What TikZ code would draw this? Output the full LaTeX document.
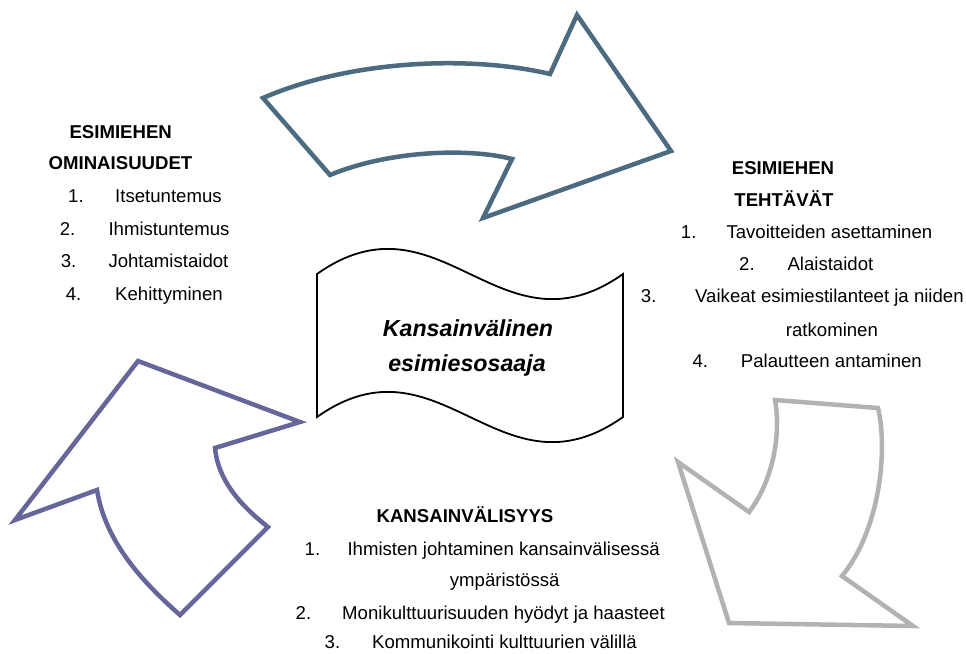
\documentclass[tikz,border=0pt]{standalone}
\usepackage{fontspec}
\setmainfont{Liberation Sans}
\definecolor{topblue}{RGB}{76,107,128}
\definecolor{leftpurple}{RGB}{102,102,154}
\definecolor{rightgray}{RGB}{178,178,178}
\begin{document}
\begin{tikzpicture}[x=1pt,y=-1pt,
  txt/.style={inner sep=0pt, anchor=base west, font=\fontsize{18.6}{22}\selectfont},
  hd/.style={inner sep=0pt, anchor=base, font=\fontsize{18.6}{22}\selectfont\bfseries},
  ctr/.style={inner sep=0pt, anchor=base, font=\fontsize{23.2}{28}\selectfont\bfseries\itshape},
  bigarrow/.style={line width=4.5pt, line join=miter, fill=white},
  wave/.style={line width=1.8pt, draw=black, fill=white}]
\useasboundingbox (0,0) rectangle (966,653);

% arrows
\draw[bigarrow, draw=topblue] (263,98) .. controls (350,60) and (470,55) .. (550,74)
  -- (577,15) -- (671,151) -- (483,218) -- (512,159)
  .. controls (470,148) and (390,150) .. (330,175) -- cycle;
\draw[bigarrow, draw=leftpurple] (138,361) -- (300,422) -- (215,448)
  .. controls (218,480) and (240,505) .. (268,527) -- (180,615)
  .. controls (140,580) and (105,540) .. (97,490) -- (15,520) -- cycle;
\draw[bigarrow, draw=rightgray] (775,400) -- (878,408)
  .. controls (888,450) and (880,530) .. (842,576) -- (913,626) -- (729,623)
  -- (678,462) -- (749,512) .. controls (770,485) and (782,440) .. cycle;

% central wave
\draw[wave] (317,274) .. controls (440,187) and (500,361) .. (623,274) -- (623,417)
  .. controls (500,504) and (440,330) .. (317,417) -- cycle;
\node[ctr] (c1) at (468,336.5) {Kansainvälinen};
\node[ctr] (c2) at (467,371.5) {esimiesosaaja};

% left block
\node[hd] (l0a) at (120.7,138.4) {ESIMIEHEN};
\node[hd] (l0b) at (120.5,169.4) {OMINAISUUDET};
\node[txt] (l1n) at (68,202.7) {1.};  \node[txt] (l1) at (115,202.7) {Itsetuntemus};
\node[txt] (l2n) at (59.7,235) {2.};  \node[txt] (l2) at (108.3,235) {Ihmistuntemus};
\node[txt] (l3n) at (60.7,267.4) {3.}; \node[txt] (l3) at (108.3,267.4) {Johtamistaidot};
\node[txt] (l4n) at (65.7,300) {4.};  \node[txt] (l4) at (115,300) {Kehittyminen};

% right block
\node[hd] (r0a) at (783,174) {ESIMIEHEN};
\node[hd] (r0b) at (784,206.5) {TEHTÄVÄT};
\node[txt] (r1n) at (680.7,238.4) {1.}; \node[txt] (r1) at (726.3,238.4) {Tavoitteiden asettaminen};
\node[txt] (r2n) at (739,270) {2.};   \node[txt] (r2) at (787.3,270) {Alaistaidot};
\node[txt] (r3n) at (640.7,302.4) {3.}; \node[txt] (r3) at (695,302.4) {Vaikeat esimiestilanteet ja niiden};
\node[txt] (r3b) at (785.7,336.7) {ratkominen};
\node[txt] (r4n) at (692.3,367.4) {4.}; \node[txt] (r4) at (740.7,367.4) {Palautteen antaminen};

% bottom block
\node[hd] (b0) at (465,522.7) {KANSAINVÄLISYYS};
\node[txt] (b1n) at (304.5,555.7) {1.}; \node[txt] (b1) at (347.3,555.7) {Ihmisten johtaminen kansainvälisessä};
\node[txt] (b1b) at (449.7,586.7) {ympäristössä};
\node[txt] (b2n) at (295.5,619.5) {2.}; \node[txt] (b2) at (342,619.5) {Monikulttuurisuuden hyödyt ja haasteet};
\node[txt] (b3n) at (324.5,648.5) {3.}; \node[txt] (b3) at (372,648.5) {Kommunikointi kulttuurien välillä};
\end{tikzpicture}
\end{document}
